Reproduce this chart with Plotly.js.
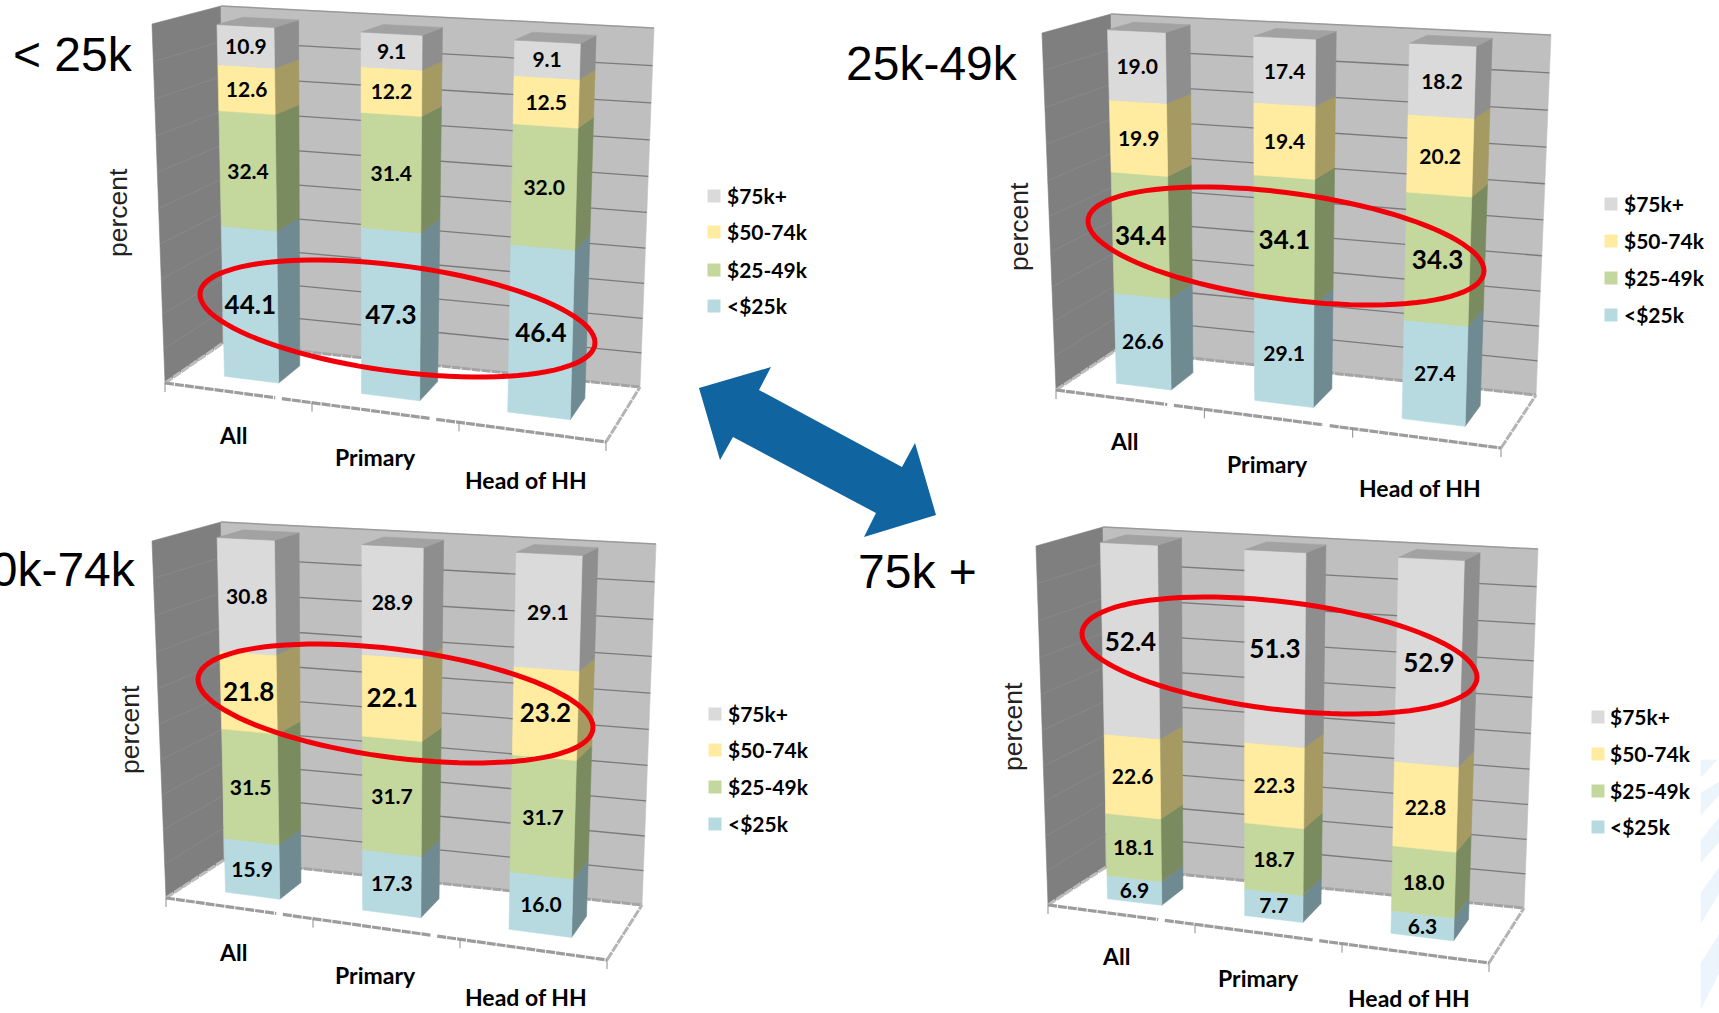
<!DOCTYPE html>
<html>
<head>
<meta charset="utf-8">
<title>Household income shares by respondent income group</title>
<script src="https://cdn.plot.ly/plotly-3.0.1.min.js"></script>
<style>html,body{margin:0;padding:0;background:#fff;overflow:hidden}</style>
</head>
<body>
<div id="chart" style="width:1719px;height:1013px"></div>
<script>
// Chart data: share (percent) of each income band, one array per category, bottom band first.
const categories = ['All', 'Primary', 'Head of HH'];
const bands = ['<$25k', '$25-49k', '$50-74k', '$75k+'];

const under25All = [44.1, 32.4, 12.6, 10.9];
const under25Primary = [47.3, 31.4, 12.2, 9.1];
const under25Head = [46.4, 32.0, 12.5, 9.1];

const from25All = [26.6, 34.4, 19.9, 19.0];
const from25Primary = [29.1, 34.1, 19.4, 17.4];
const from25Head = [27.4, 34.3, 20.2, 18.2];

const from50All = [15.9, 31.5, 21.8, 30.8];
const from50Primary = [17.3, 31.7, 22.1, 28.9];
const from50Head = [16.0, 31.7, 23.2, 29.1];

const over75All = [6.9, 18.1, 22.6, 52.4];
const over75Primary = [7.7, 18.7, 22.3, 51.3];
const over75Head = [6.3, 18.0, 22.8, 52.9];

// Band colours: front face and shaded side face.
const frontColors = ['#b7dae1', '#c4d79c', '#ffeca0', '#dadada'];
const sideColors = ['#6f8a90', '#7b8b60', '#a59a62', '#8e8e8e'];
const topColor = '#a2a2a2';

// Bar footprint inside the box: horizontal extent per category, depth extent shared.
const barSpans = [[0.097, 0.222], [0.413, 0.547], [0.75, 0.894]];
const barDepth = [0.3, 0.7];
const DEPTH_FRONT = 0, DEPTH_BACK = 1;
// Vertical foreshortening of the tilted camera: mid heights sit a little lower than linear.
const FORESHORTEN = 0.055;
// Baseline correction for text traces, in page units.
const TEXT_DROP = 2.5;

// Each panel is a perspective box given by its eight corners on the page
// (F/B = front/back, B/T = bottom/top, L/R = left/right).
const panels = [
  {
    title: '< 25k', titleAt: [11, 54], titleAnchor: 'left', barScale: 0.99,
    rows: [under25All, under25Primary, under25Head], highlight: 0,
    box: {FBL: [165, 383], FBR: [606, 442], BBL: [223, 343], BBR: [640, 387],
          FTL: [152, 24], FTR: [618, 48], BTL: [221, 6], BTR: [654, 28]},
    catAt: [[233, 435], [375, 457], [526, 480]],
    axisAt: [118, 213],
    legendSwatchX: 714, legendTextX: 727, legendY: [306, 270, 232, 196],
    ring: {left: 200, right: 595, top: 260, bottom: 377, topX: 316}
  },
  {
    title: '25k-49k', titleAt: [844, 63], titleAnchor: 'left', barScale: 1,
    rows: [from25All, from25Primary, from25Head], highlight: 1,
    box: {FBL: [1056, 390], FBR: [1501, 448], BBL: [1116, 350], BBR: [1536, 395],
          FTL: [1042, 33], FTR: [1514, 55], BTL: [1111, 14], BTR: [1551, 35]},
    catAt: [[1124, 441], [1267, 464], [1420, 488]],
    axisAt: [1019, 227],
    legendSwatchX: 1611, legendTextX: 1624, legendY: [315, 278, 241, 204],
    ring: {left: 1088, right: 1484, top: 187, bottom: 305, topX: 1203}
  },
  {
    title: '50k-74k', titleAt: [138, 569], titleAnchor: 'right', barScale: 1,
    rows: [from50All, from50Primary, from50Head], highlight: 2,
    box: {FBL: [166, 898], FBR: [607, 960], BBL: [224, 860], BBR: [642, 905],
          FTL: [152, 541], FTR: [620, 564], BTL: [221, 522], BTR: [656, 544]},
    catAt: [[233, 952], [375, 975], [526, 997]],
    axisAt: [130, 730],
    legendSwatchX: 715, legendTextX: 728, legendY: [824, 787, 750, 714],
    ring: {left: 198, right: 593, top: 644, bottom: 763, topX: 316}
  },
  {
    title: '75k +', titleAt: [856, 571], titleAnchor: 'left', barScale: 1,
    rows: [over75All, over75Primary, over75Head], highlight: 3,
    box: {FBL: [1048, 905], FBR: [1489, 963], BBL: [1106, 867], BBR: [1524, 908],
          FTL: [1036, 546], FTR: [1502, 569], BTL: [1103, 527], BTR: [1538, 549]},
    catAt: [[1116, 956], [1258, 978], [1409, 997.5]],
    axisAt: [1013, 727],
    legendSwatchX: 1598, legendTextX: 1610, legendY: [827, 791, 754, 717],
    ring: {left: 1082, right: 1477, top: 597, bottom: 714, topX: 1206}
  }
];

const LABEL_FONT = 'Lato, "Noto Sans", sans-serif';
const TITLE_FONT = '"Liberation Sans", Arial, sans-serif';

const lerp = (a, b, t) => a + (b - a) * t;
const lerp2 = (p, q, t) => [lerp(p[0], q[0], t), lerp(p[1], q[1], t)];

// Maps (across, depth, percent) inside a panel box to page coordinates.
function project(box, u, d, pct) {
  const p = pct / 100;
  const h = p - FORESHORTEN * p * (1 - p);
  const bottom = lerp2(lerp2(box.FBL, box.FBR, u), lerp2(box.BBL, box.BBR, u), d);
  const top = lerp2(lerp2(box.FTL, box.FTR, u), lerp2(box.BTL, box.BTR, u), d);
  return lerp2(bottom, top, h);
}

const traces = [];
function polygon(pts, color) {
  traces.push({
    type: 'scatter', mode: 'lines', fill: 'toself', fillcolor: color,
    x: pts.map(p => p[0]).concat(pts[0][0]),
    y: pts.map(p => p[1]).concat(pts[0][1]),
    line: {color: color, width: 0.6}, hoverinfo: 'skip'
  });
}
function polyline(pts, color, width, dash) {
  traces.push({
    type: 'scatter', mode: 'lines',
    x: pts.map(p => p[0]), y: pts.map(p => p[1]),
    line: {color: color, width: width, dash: dash || 'solid'}, hoverinfo: 'skip'
  });
}

const annotations = [];
function note(text, x, y, size, opts) {
  annotations.push(Object.assign({
    xref: 'x', yref: 'y', x: x, y: y, text: text, showarrow: false,
    xanchor: 'center', yanchor: 'middle',
    font: {family: LABEL_FONT, size: size, color: '#000', weight: 700}
  }, opts || {}));
}

const shapes = [];

// Pale decorative stripes along the lower right edge of the slide.
const stripes = [
  [[1701, 760], [1717, 760], [1701, 777]],
  [[1701, 793], [1719, 782], [1719, 795], [1701, 815]],
  [[1701, 840], [1719, 818], [1719, 842], [1701, 862]],
  [[1701, 893], [1719, 868], [1719, 893], [1701, 923]],
  [[1701, 963], [1719, 935], [1719, 973], [1701, 1008]]
];
stripes.forEach(s => polygon(s, '#ecf4fc'));

const labelSets = [[], []];

panels.forEach(panel => {
  const b = panel.box;

  // Walls
  polygon([b.FTL, b.BTL, b.BBL, b.FBL], '#7f7f7f');
  polygon([b.BTL, b.BTR, b.BBR, b.BBL], '#bfbfbf');
  polyline([b.BTL, b.BTR], '#9a9a9a', 1.5);

  // Gridlines every ten percent on both walls
  for (let pct = 10; pct <= 90; pct += 10) {
    polyline([project(b, 0, DEPTH_BACK, pct), project(b, 1, DEPTH_BACK, pct)], '#7a7a7a', 1.3);
    polyline([project(b, 0, DEPTH_FRONT, pct), project(b, 0, DEPTH_BACK, pct)], '#898989', 1);
  }

  // Floor outline and category ticks
  const floorDash = '9px,1px';
  polyline([b.BBL, b.BBR], '#a4a4a4', 3, floorDash);
  polyline([b.FBL, b.BBL], '#bcbcbc', 3, floorDash);
  polyline([b.FBR, b.BBR], '#b4b4b4', 3, floorDash);
  polyline([b.FBL, project(b, 0.25, 0, 0)], '#9c9c9c', 3.2, floorDash);
  polyline([project(b, 0.265, 0, 0), project(b, 0.6, 0, 0)], '#9c9c9c', 3.2, floorDash);
  polyline([project(b, 0.615, 0, 0), b.FBR], '#9c9c9c', 3.2, floorDash);
  [0, 1 / 3, 2 / 3, 1].forEach(u => {
    const p = project(b, u, 0, 0);
    polyline([p, [p[0], p[1] + 9]], '#8c8c8c', 1);
  });

  // Stacked bars
  const k = panel.barScale;
  panel.rows.forEach((row, c) => {
    const [u0, u1] = barSpans[c];
    const [d0, d1] = barDepth;
    let base = 0;
    row.forEach((value, s) => {
      const top = base + value;
      polygon([project(b, u1, d0, base * k), project(b, u1, d1, base * k),
               project(b, u1, d1, top * k), project(b, u1, d0, top * k)], sideColors[s]);
      polygon([project(b, u0, d0, base * k), project(b, u1, d0, base * k),
               project(b, u1, d0, top * k), project(b, u0, d0, top * k)], frontColors[s]);
      const mid = project(b, (u0 + u1) / 2, d0, (base + value / 2) * k);
      const set = s === panel.highlight ? 1 : 0;
      labelSets[set].push({x: mid[0], y: mid[1] + TEXT_DROP, t: value.toFixed(1)});
      base = top;
    });
    polygon([project(b, u0, d0, base * k), project(b, u1, d0, base * k),
             project(b, u1, d1, base * k), project(b, u0, d1, base * k)], topColor);
    note(categories[c], panel.catAt[c][0], panel.catAt[c][1], 23);
  });

  // Panel heading and axis title
  note(panel.title, panel.titleAt[0], panel.titleAt[1], 48, {
    xanchor: panel.titleAnchor,
    font: {family: TITLE_FONT, size: 48, color: '#000'}
  });
  note('percent', panel.axisAt[0], panel.axisAt[1], 26.5, {
    textangle: -90,
    font: {family: TITLE_FONT, size: 26.5, color: '#222'}
  });

  // Legend, top entry is the highest band
  traces.push({
    type: 'scatter', mode: 'markers',
    x: bands.map(() => panel.legendSwatchX), y: panel.legendY,
    marker: {symbol: 'square', size: 13, color: frontColors, line: {width: 0}},
    hoverinfo: 'skip'
  });
  traces.push({
    type: 'scatter', mode: 'text',
    x: bands.map(() => panel.legendTextX), y: panel.legendY.map(v => v + TEXT_DROP),
    text: bands, textposition: 'middle right',
    textfont: {family: LABEL_FONT, size: 21, color: '#000', weight: 700},
    hoverinfo: 'skip'
  });

  // Ring around the band this panel singles out
  const r = panel.ring;
  const cx = (r.left + r.right) / 2, cy = (r.top + r.bottom) / 2;
  const W = (r.right - r.left) / 2, H = (r.bottom - r.top) / 2;
  const phase = Math.acos((r.topX - cx) / W);
  const steps = 96;
  let path = '';
  for (let i = 0; i <= steps; i++) {
    const t = 2 * Math.PI * i / steps;
    const px = cx + W * Math.cos(t);
    const py = cy - H * Math.cos(t - phase);
    path += (i ? 'L' : 'M') + px.toFixed(1) + ',' + py.toFixed(1) + ' ';
  }
  shapes.push({type: 'path', xref: 'x', yref: 'y', path: path + 'Z',
               line: {color: '#f2000a', width: 5}, fillcolor: 'rgba(0,0,0,0)', layer: 'above'});
});

// Double-headed arrow linking the lowest and highest income groups
const arrowOutline = [[699, 388], [771, 367], [759, 390], [902, 467], [915, 443],
                      [936, 515], [864, 537], [876, 513], [733, 437], [720, 460]];
shapes.push({
  type: 'path', xref: 'x', yref: 'y', layer: 'above',
  path: 'M' + arrowOutline.map(p => p.join(',')).join(' L') + ' Z',
  fillcolor: '#10649f', line: {width: 0}
});

// Value labels, regular and emphasised sizes
[[0, 21], [1, 26]].forEach(([set, size]) => {
  traces.push({
    type: 'scatter', mode: 'text',
    x: labelSets[set].map(l => l.x), y: labelSets[set].map(l => l.y),
    text: labelSets[set].map(l => l.t), textposition: 'middle center',
    textfont: {family: LABEL_FONT, size: size, color: '#000', weight: 700},
    hoverinfo: 'skip'
  });
});

Plotly.newPlot('chart', traces, {
  width: 1719, height: 1013,
  margin: {l: 0, r: 0, t: 0, b: 0},
  paper_bgcolor: '#fff', plot_bgcolor: '#fff',
  showlegend: false,
  xaxis: {range: [0, 1719], visible: false, fixedrange: true},
  yaxis: {range: [1013, 0], visible: false, fixedrange: true},
  shapes: shapes,
  annotations: annotations
}, {displayModeBar: false, responsive: false});
</script>
</body>
</html>
